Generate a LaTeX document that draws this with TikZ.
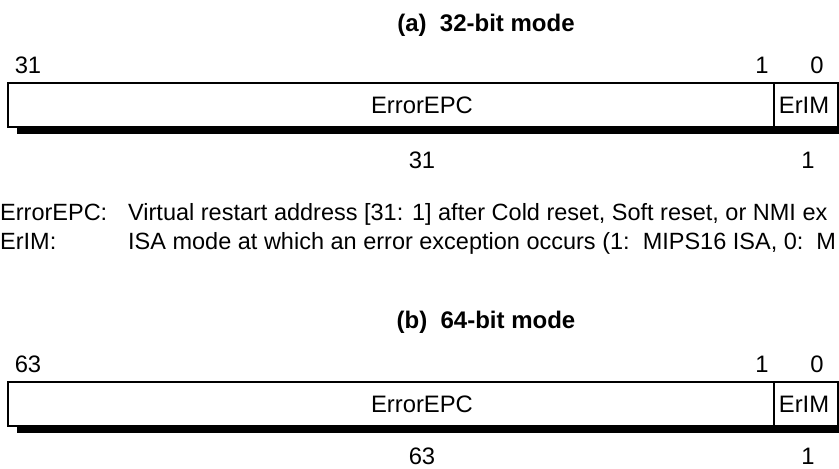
\documentclass[tikz,border=0pt]{standalone}
\usepackage{fontspec}
\setmainfont{Liberation Sans}
\usetikzlibrary{positioning}
\tikzset{
    regfield/.style={draw, line width=1.5pt, minimum height=44pt,
    inner sep=0pt, outer sep=0pt, anchor=north west},
    bitnum/.style={font=\fontsize{23.8}{28}\selectfont, inner sep=0pt},
    fieldname/.style={font=\fontsize{23.8}{28}\selectfont, inner sep=0pt},
    modetitle/.style={font=\fontsize{24}{28}\selectfont\bfseries, inner sep=0pt},
    desc/.style={font=\fontsize{23.5}{28}\selectfont, inner sep=0pt, anchor=base west},
    regshadow/.style={fill=black},
}

\begin{document}
\begin{tikzpicture}[x=1pt, y=-1pt, node distance=0pt]
    \useasboundingbox (0,0) rectangle (839,469);
    \clip (0,0) rectangle (839,469);
    % (a) 32-bit mode
    \node[modetitle] (titleA) at (486,25) {(a)\ \ 32-bit mode};
    \node[bitnum] (hiA) at (28,65) {31};
    \node[bitnum] (midA) at (762,65) {1};
    \node[bitnum] (loA) at (817,65) {0};
    \node[regfield, minimum width=766pt] (epcA) at (8,83) {};
    \node[regfield, minimum width=64pt, right=of epcA] (erlA) {};
    \fill[regshadow] ([xshift=9pt]epcA.south west) rectangle ([xshift=20pt,yshift=-7pt]erlA.south east);
    \draw[line width=1.5pt] (epcA.south west) -- (erlA.south east);
    \node[fieldname] (epcnameA) at (422,105) {ErrorEPC};
    \node[fieldname] (erlnameA) at (804,105) {ErIM};
    \node[bitnum] (wepcA) at (422,160) {31};
    \node[bitnum] (werlA) at (808,160) {1};
    % field descriptions
    \node[desc] (keyepc) at (0,220) {ErrorEPC:};
    \node[desc] (txtepc) at (128,220) {Virtual restart address [31: 1] after Cold reset, Soft reset, or NMI ex};
    \node[desc] (keyerl) at (0,249) {ErIM:};
    \node[desc] (txterl) at (128,249) {ISA mode at which an error exception occurs (1:\ \ MIPS16 ISA, 0:\ \ M};
    % (b) 64-bit mode
    \node[modetitle] (titleB) at (486,322) {(b)\ \ 64-bit mode};
    \node[bitnum] (hiB) at (28,364) {63};
    \node[bitnum] (midB) at (762,364) {1};
    \node[bitnum] (loB) at (817,364) {0};
    \node[regfield, minimum width=766pt] (epcB) at (8,382) {};
    \node[regfield, minimum width=64pt, right=of epcB] (erlB) {};
    \fill[regshadow] ([xshift=9pt]epcB.south west) rectangle ([xshift=20pt,yshift=-7pt]erlB.south east);
    \draw[line width=1.5pt] (epcB.south west) -- (erlB.south east);
    \node[fieldname] (epcnameB) at (422,404) {ErrorEPC};
    \node[fieldname] (erlnameB) at (804,404) {ErIM};
    \node[bitnum] (wepcB) at (422,456) {63};
    \node[bitnum] (werlB) at (808,456) {1};
\end{tikzpicture}
\end{document}
